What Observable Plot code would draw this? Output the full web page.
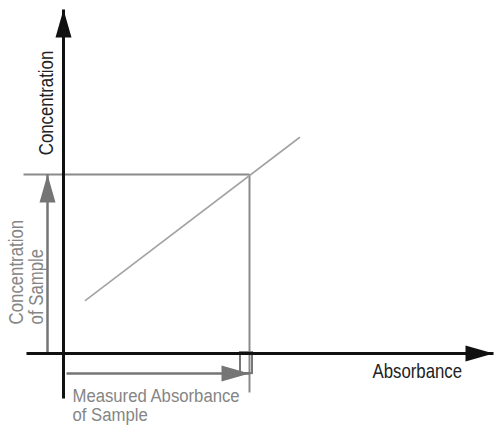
<!DOCTYPE html>
<html>
<head>
<meta charset="utf-8">
<script src="https://cdn.jsdelivr.net/npm/d3@7"></script>
<script src="https://cdn.jsdelivr.net/npm/@observablehq/plot@0.6"></script>
<style>
  html, body { margin: 0; padding: 0; background: #fff; }
  svg { display: block; }
</style>
</head>
<body>
<div id="chart"></div>
<script>
// ---- Data (arbitrary chart units: absorbance on x, concentration on y) ----
const absorbanceAxis = [-0.0925, 1.075];     // x-axis line: tail, arrow tip
const concentrationAxis = [-0.15, 1.147];    // y-axis line: tail, arrow tip
const calibrationAbs = [0.055, 0.59];        // calibration line ends (absorbance)
const calibrationConc = [0.177, 0.72];       // calibration line ends (concentration)
const sampleAbs = 0.465;                     // measured absorbance of sample
const sampleConc = 0.597;                    // concentration of sample
const concGuideStart = -0.1;                 // horizontal guide starts left of axis
const absGuideEnd = -0.13;                   // vertical guide runs below axis
const concArrowAbs = -0.04;                  // where the "concentration" arrow sits
const absArrowConc = -0.067;                 // where the "absorbance" arrow sits
const absArrowStart = 0.0075;
const markerBox = {x1: 0.4425, x2: 0.4725, y1: -0.067, y2: 0.003};
const labels = [
  {text: "Concentration", x: -0.0435, y: 0.835, rotate: -90, anchor: "middle", color: "dark", lh: 1, fs: 20},
  {text: "Absorbance", x: 0.7725, y: -0.0587, rotate: 0, anchor: "start", color: "dark", lh: 1, fs: 20},
  {text: "Concentration\nof Sample", x: -0.0935, y: 0.097, rotate: -90, anchor: "start", color: "gray", lh: 1, fs: 20},
  {text: "Measured Absorbance\nof Sample", x: 0.0225, y: -0.172, rotate: 0, anchor: "start", color: "gray", lh: 1, fs: 19}
];

// filled, elongated arrowhead with its tip at the origin, pointing up
const arrowHead = {
  draw(context) {
    const L = 28, W = 16;
    context.moveTo(0, 0);
    context.lineTo(W / 2, L);
    context.lineTo(-W / 2, L);
    context.closePath();
  }
};

const font = "'Liberation Sans', Arial, sans-serif";

function labelMark(d) {
  return Plot.text([d], {
    x: "x", y: "y", text: "text", rotate: "rotate", textAnchor: d.anchor,
    fill: d.color === "dark" ? "#222" : "#858585",
    fontSize: d.fs, fontFamily: font, lineHeight: d.lh
  });
}

const chart = Plot.plot({
  width: 495,
  height: 426,
  margin: 0,
  x: {domain: [0, 1], range: [63, 463], axis: null},
  y: {domain: [0, 1], range: [353, 53], axis: null},
  marks: [
    // horizontal guide at sample concentration
    Plot.link([{x1: concGuideStart, x2: sampleAbs, y: sampleConc}],
      {x1: "x1", x2: "x2", y1: "y", y2: "y", stroke: "#8a8a8a", strokeWidth: 2}),
    // vertical guide at sample absorbance
    Plot.link([{x: sampleAbs, y1: sampleConc, y2: absGuideEnd}],
      {x1: "x", x2: "x", y1: "y1", y2: "y2", stroke: "#8a8a8a", strokeWidth: 2}),
    // calibration line
    Plot.line(calibrationAbs.map((a, i) => ({a, c: calibrationConc[i]})),
      {x: "a", y: "c", stroke: "#a3a3a3", strokeWidth: 1.6}),
    // small marker box at the axis
    Plot.rect([markerBox], {x1: "x1", x2: "x2", y1: "y1", y2: "y2", fill: "none", stroke: "#777", strokeWidth: 2}),
    // gray arrow for concentration of sample
    Plot.link([{x: concArrowAbs, y1: 0, y2: sampleConc}],
      {x1: "x", x2: "x", y1: "y1", y2: "y2", stroke: "#757575", strokeWidth: 2.5}),
    Plot.dot([{x: concArrowAbs, y: sampleConc}],
      {x: "x", y: "y", symbol: arrowHead, fill: "#757575", stroke: "none", rotate: 0}),
    // gray arrow for measured absorbance
    Plot.link([{y: absArrowConc, x1: absArrowStart, x2: sampleAbs}],
      {x1: "x1", x2: "x2", y1: "y", y2: "y", stroke: "#757575", strokeWidth: 2.5}),
    Plot.dot([{x: sampleAbs, y: absArrowConc}],
      {x: "x", y: "y", symbol: arrowHead, fill: "#757575", stroke: "none", rotate: 90}),
    // axes
    Plot.link([{x1: absorbanceAxis[0], x2: absorbanceAxis[1], y: 0}],
      {x1: "x1", x2: "x2", y1: "y", y2: "y", stroke: "#111", strokeWidth: 3}),
    Plot.link([{x: 0, y1: concentrationAxis[0], y2: concentrationAxis[1]}],
      {x1: "x", x2: "x", y1: "y1", y2: "y2", stroke: "#111", strokeWidth: 3}),
    Plot.dot([{x: absorbanceAxis[1], y: 0, r: 90}, {x: 0, y: concentrationAxis[1], r: 0}],
      {x: "x", y: "y", symbol: arrowHead, fill: "#111", stroke: "none", rotate: "r"}),
    // labels
    ...labels.map(labelMark)
  ]
});

// condense the label glyphs horizontally (narrow typeface look), keeping their anchors
const condense = [0.84, 0.84, 0.84, 0.88];
d3.select(chart).selectAll("text").each(function (_, i) {
  const s = condense[i] ?? 0.84;
  const t = this.getAttribute("transform");
  if (t) {
    this.setAttribute("transform", t + ` scale(${s},1)`);
  } else {
    const x = +this.getAttribute("x") || 0;
    this.setAttribute("transform", `translate(${x},0) scale(${s},1) translate(${-x},0)`);
  }
});

document.getElementById("chart").appendChild(chart);
</script>
</body>
</html>
